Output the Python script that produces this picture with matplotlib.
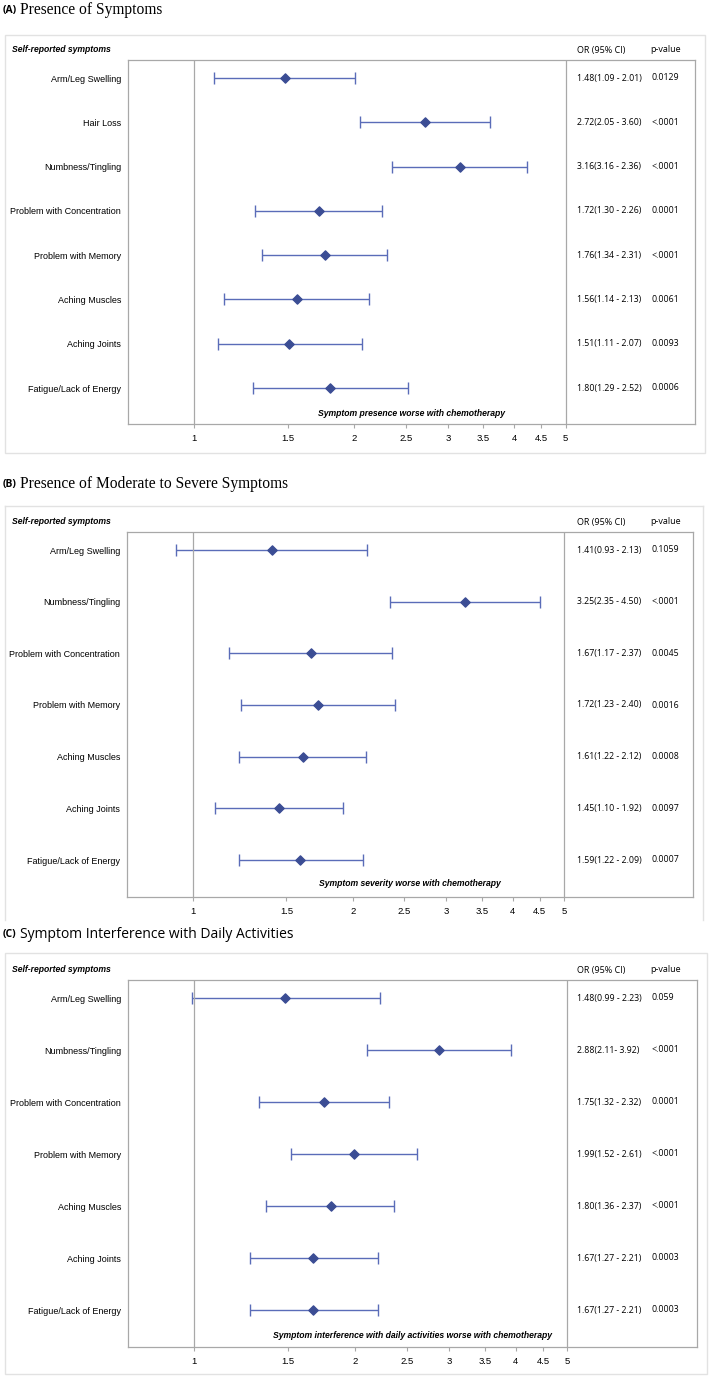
import numpy as np
import matplotlib
matplotlib.use("Agg")
from matplotlib import pyplot as plt
from matplotlib.patches import Rectangle

# ---- data ----
labels_a = ["Arm/Leg Swelling", "Hair Loss", "Numbness/Tingling", "Problem with Concentration",
            "Problem with Memory", "Aching Muscles", "Aching Joints", "Fatigue/Lack of Energy"]
or_a = [1.48, 2.72, 3.16, 1.72, 1.76, 1.56, 1.51, 1.80]
lo_a = [1.09, 2.05, 2.36, 1.30, 1.34, 1.14, 1.11, 1.29]
hi_a = [2.01, 3.60, 4.23, 2.26, 2.31, 2.13, 2.07, 2.52]
ci_a = ["1.48(1.09 - 2.01)", "2.72(2.05 - 3.60)", "3.16(3.16 - 2.36)", "1.72(1.30 - 2.26)",
        "1.76(1.34 - 2.31)", "1.56(1.14 - 2.13)", "1.51(1.11 - 2.07)", "1.80(1.29 - 2.52)"]
p_a = ["0.0129", "<.0001", "<.0001", "0.0001", "<.0001", "0.0061", "0.0093", "0.0006"]

labels_b = ["Arm/Leg Swelling", "Numbness/Tingling", "Problem with Concentration",
            "Problem with Memory", "Aching Muscles", "Aching Joints", "Fatigue/Lack of Energy"]
or_b = [1.41, 3.25, 1.67, 1.72, 1.61, 1.45, 1.59]
lo_b = [0.93, 2.35, 1.17, 1.23, 1.22, 1.10, 1.22]
hi_b = [2.13, 4.50, 2.37, 2.40, 2.12, 1.92, 2.09]
ci_b = ["1.41(0.93 - 2.13)", "3.25(2.35 - 4.50)", "1.67(1.17 - 2.37)", "1.72(1.23 - 2.40)",
        "1.61(1.22 - 2.12)", "1.45(1.10 - 1.92)", "1.59(1.22 - 2.09)"]
p_b = ["0.1059", "<.0001", "0.0045", "0.0016", "0.0008", "0.0097", "0.0007"]

labels_c = labels_b
or_c = [1.48, 2.88, 1.75, 1.99, 1.80, 1.67, 1.67]
lo_c = [0.99, 2.11, 1.32, 1.52, 1.36, 1.27, 1.27]
hi_c = [2.23, 3.92, 2.32, 2.61, 2.37, 2.21, 2.21]
ci_c = ["1.48(0.99 - 2.23)", "2.88(2.11- 3.92)", "1.75(1.32 - 2.32)", "1.99(1.52 - 2.61)",
        "1.80(1.36 - 2.37)", "1.67(1.27 - 2.21)", "1.67(1.27 - 2.21)"]
p_c = ["0.059", "<.0001", "0.0001", "<.0001", "<.0001", "0.0003", "0.0003"]

xticks = [1, 1.5, 2, 2.5, 3, 3.5, 4, 4.5, 5]
xtick_labels = ["1", "1.5", "2", "2.5", "3", "3.5", "4", "4.5", "5"]

W, H = 709, 1378
fig = plt.figure(figsize=(W / 100, H / 100), dpi=100)
fig.patch.set_facecolor("white")

LINE = "#5a6cb8"
MARK = "#3b4d94"
FRAME = "#a8a8a8"
NARROW = ["Liberation Sans Narrow", "Liberation Sans", "DejaVu Sans"]
SEG = ["Open Sans", "DejaVu Sans"]


def fx(x):
    return x / W


def fy(y):
    return 1 - y / H


def panel(tag, title, title_font, title_size, box, frame, rows, labels, ors, los, his, cis, ps, note, note_y):
    # title
    fig.text(fx(3), fy(title[1]), tag, fontsize=7.5, fontweight="bold", family=SEG, va="center")
    fig.text(fx(20), fy(title[1]), title[0], fontsize=title_size, family=title_font, va="center")

    # outer light box
    if box is not None:
        x0, y0, x1, y1 = box
        fig.patches.append(Rectangle((fx(x0), fy(y1)), fx(x1 - x0), (y1 - y0) / H,
                                     transform=fig.transFigure, fill=False,
                                     edgecolor="#e2e2e2", linewidth=1.0))

    l, t, r, b = frame
    ax = fig.add_axes([fx(l), fy(b), fx(r - l), (b - t) / H])
    ax.set_xscale("log")
    ax.set_xlim(0.751, 8.75)
    n = len(labels)
    first, last = rows
    step = (last - first) / (n - 1)
    ax.set_ylim(n - 1 + (b - last) / step, -(first - t) / step)

    y = np.arange(n)
    ors = np.array(ors)
    err = np.vstack([ors - np.array(los), np.array(his) - ors])
    ax.errorbar(ors, y, xerr=err, fmt="none", ecolor=LINE, elinewidth=1.0, capsize=4, capthick=1.0)
    ax.scatter(ors, y, marker="D", s=22, color=MARK, zorder=3)

    ax.axvline(1, color=FRAME, lw=0.9)
    ax.axvline(5, color=FRAME, lw=0.9)

    ax.set_yticks(y)
    ax.set_yticklabels(labels, fontsize=6.5, family=NARROW)
    ax.tick_params(axis="y", length=0, pad=5)
    ax.set_xticks(xticks)
    ax.set_xticklabels(xtick_labels, fontsize=6.8, family=NARROW)
    ax.xaxis.set_minor_locator(matplotlib.ticker.NullLocator())
    ax.tick_params(axis="x", length=3, width=0.8, color=FRAME, pad=4)
    for s in ax.spines.values():
        s.set_color(FRAME)
        s.set_linewidth(0.9)

    # OR / p-value columns
    tr = ax.get_yaxis_transform()
    or_x = (577 - l) / (r - l)
    p_x = (652 - l) / (r - l)
    for i in range(n):
        ax.text(or_x, i, cis[i], transform=tr, fontsize=6.3, family=SEG, va="center")
        ax.text(p_x, i, ps[i], transform=tr, fontsize=6.3, family=SEG, va="center")
    ax.text(0.5, n - 1 + (note_y - last) / step, note, transform=tr, ha="center", va="center",
            fontsize=6.2, fontweight="bold", style="italic", family=NARROW)

    # headers above the frame
    hy = fy(t - 10)
    fig.text(fx(12), hy, "Self-reported symptoms", fontsize=6.2, fontweight="bold",
             style="italic", family=NARROW, va="center")
    fig.text(fx(577), hy, "OR (95% CI)", fontsize=6.5, family=SEG, va="center")
    fig.text(fx(650), hy, "p-value", fontsize=6.5, family=SEG, va="center")
    return ax


panel("(A)", ("Presence of Symptoms", 10), ["Liberation Serif"], 11.2,
      (5, 35, 705, 453), (128, 60, 695, 424), (78, 388),
      labels_a, or_a, lo_a, hi_a, ci_a, p_a,
      "Symptom presence worse with chemotherapy", 414)

panel("(B)", ("Presence of Moderate to Severe Symptoms", 484), ["Liberation Serif"], 11.2,
      None, (127, 532, 693, 897), (550, 860),
      labels_b, or_b, lo_b, hi_b, ci_b, p_b,
      "Symptom severity worse with chemotherapy", 884)

# panel B outer box has no visible bottom edge in the reference, draw the other three sides
for seg in [((5, 506), (703, 506)), ((5, 506), (5, 920)), ((703, 506), (703, 920))]:
    (xa, ya), (xb, yb) = seg
    fig.lines.append(plt.Line2D([fx(xa), fx(xb)], [fy(ya), fy(yb)], transform=fig.transFigure,
                                color="#e2e2e2", lw=1.0))

panel("(C)", ("Symptom Interference with Daily Activities", 935), SEG, 10,
      (5, 953, 707, 1374), (128, 980, 697, 1347), (998, 1310),
      labels_c, or_c, lo_c, hi_c, ci_c, p_c,
      "Symptom interference with daily activities worse with chemotherapy", 1336)

fig.savefig("out.png", dpi=100)
